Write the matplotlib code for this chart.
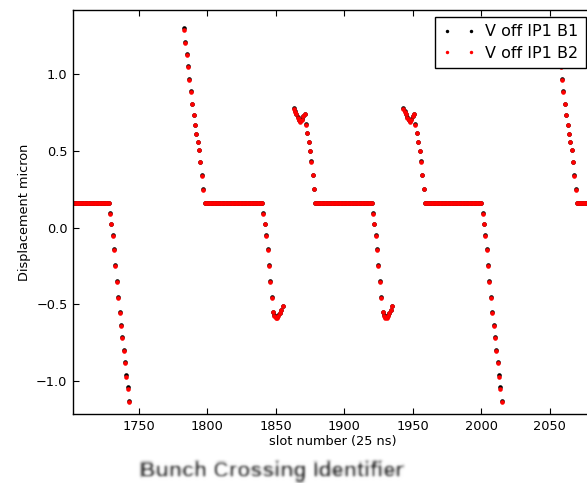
import numpy as np
import matplotlib

matplotlib.use("Agg")
import matplotlib.pyplot as plt

# ── Orbit displacement per bunch slot, IP1 vertical, both beams ──
FLAT_B1 = 0.162
FLAT_B2 = 0.159

# flat stretches of each train (first slot, last slot)
flat_runs = [(1696, 1728), (1798, 1840), (1879, 1920), (1959, 2000), (2070, 2085)]

# first slot of each ramp and which shape it follows
ramp_starts = [1729, 1783, 1841, 1863, 1921, 1943, 2001, 2055]
ramp_kinds = ["fall_long", "top_long", "fall_v", "top_v",
              "fall_v", "top_v", "fall_long", "top_long"]

fall_long_b1 = [0.093, 0.026, -0.050, -0.141, -0.244, -0.352, -0.456, -0.551,
                -0.633, -0.714, -0.797, -0.876, -0.964, -1.044, -1.131]
fall_long_b2 = [0.091, 0.024, -0.052, -0.144, -0.248, -0.357, -0.461, -0.557,
                -0.640, -0.722, -0.805, -0.885, -0.973, -1.053, -1.140]

top_long_b1 = [1.300, 1.213, 1.131, 1.052, 0.970, 0.891, 0.808, 0.736,
               0.670, 0.613, 0.561, 0.504, 0.427, 0.340, 0.249]
top_long_b2 = [1.292, 1.206, 1.125, 1.047, 0.966, 0.888, 0.805, 0.733,
               0.668, 0.611, 0.559, 0.503, 0.426, 0.339, 0.248]

fall_v_b1 = [0.093, 0.026, -0.050, -0.141, -0.244, -0.352, -0.456, -0.548,
             -0.573, -0.587, -0.585, -0.574, -0.556, -0.536, -0.512]
fall_v_b2 = [0.091, 0.024, -0.052, -0.144, -0.248, -0.357, -0.461, -0.553,
             -0.578, -0.592, -0.590, -0.578, -0.560, -0.540, -0.515]

top_v_b1 = [0.782, 0.763, 0.743, 0.722, 0.704, 0.693, 0.708, 0.728,
            0.744, 0.673, 0.616, 0.561, 0.502, 0.432, 0.345, 0.251]
top_v_b2 = [0.775, 0.757, 0.738, 0.718, 0.700, 0.690, 0.705, 0.725,
            0.740, 0.670, 0.614, 0.559, 0.500, 0.431, 0.344, 0.250]

shapes_b1 = {"fall_long": fall_long_b1, "top_long": top_long_b1,
             "fall_v": fall_v_b1, "top_v": top_v_b1}
shapes_b2 = {"fall_long": fall_long_b2, "top_long": top_long_b2,
             "fall_v": fall_v_b2, "top_v": top_v_b2}


def build_series(flat_level, shapes):
    """Stitch flat runs and ramps into one (slot, value) series."""
    slots, values = [], []
    for first, last in flat_runs:
        s = np.arange(first, last + 1)
        slots.append(s)
        values.append(np.full(len(s), flat_level))
    for start, kind in zip(ramp_starts, ramp_kinds):
        v = np.array(shapes[kind])
        slots.append(np.arange(start, start + len(v)))
        values.append(v)
    slots = np.concatenate(slots)
    values = np.concatenate(values)
    order = np.argsort(slots)
    return slots[order], values[order]


def blur(img, dpi, sigma=1.5):
    """Gaussian blur used as an agg filter on the caption text."""
    pad = int(3 * sigma) + 1
    src = np.pad(img, [(pad, pad), (pad, pad), (0, 0)], "constant")
    k = np.exp(-0.5 * (np.arange(-pad, pad + 1) / sigma) ** 2)
    k /= k.sum()
    out = np.zeros_like(src)
    for i, w in enumerate(k):
        out += w * np.roll(src, i - pad, axis=0)
    src, out = out, np.zeros_like(out)
    for i, w in enumerate(k):
        out += w * np.roll(src, i - pad, axis=1)
    return out, -pad, -pad


plt.rcParams.update({
    "font.family": "DejaVu Sans",
    "xtick.direction": "in",
    "ytick.direction": "in",
    "xtick.top": True,
    "ytick.right": True,
    "xtick.major.size": 4.5,
    "ytick.major.size": 4.5,
    "axes.linewidth": 1.0,
})

x1, y1 = build_series(FLAT_B1, shapes_b1)
x2, y2 = build_series(FLAT_B2, shapes_b2)

fig = plt.figure(figsize=(5.87, 4.83), dpi=100)
ax = fig.add_axes([73 / 587, 69 / 483, 520 / 587, 404 / 483])

ax.plot(x1, y1, "o", color="k", markersize=3.3, markeredgewidth=0,
        label="V off IP1 B1")
ax.plot(x2, y2, "o", color="#ff0000", markersize=3.3, markeredgewidth=0,
        label="V off IP1 B2")

ax.set_xlim(1702, 2081.6)
ax.set_ylim(-1.217, 1.42)
ax.set_xticks([1750, 1800, 1850, 1900, 1950, 2000, 2050])
ax.set_yticks([-1.0, -0.5, 0.0, 0.5, 1.0])
ax.tick_params(labelsize=9.3, pad=4)
ax.set_xlabel("slot number (25 ns)", fontsize=9.3, labelpad=2)
ax.set_ylabel("Displacement micron", fontsize=9.3, labelpad=4)

leg = ax.legend(loc="upper right", numpoints=2, fontsize=11.5,
                markerscale=0.75, fancybox=False, framealpha=1,
                borderaxespad=0.45, handlelength=2.1, handletextpad=0.6,
                borderpad=0.45, labelspacing=0.42)
leg.get_frame().set_edgecolor("black")
leg.get_frame().set_linewidth(1.0)

caption = fig.text(272 / 587, 1 - 472 / 483, "Bunch Crossing Identifier",
                   fontsize=15.5, family="Liberation Sans", weight="bold",
                   color="#1c1c1c", ha="center", va="center")
caption.set_agg_filter(blur)
caption.set_rasterized(True)

fig.savefig("out.png", dpi=100)
